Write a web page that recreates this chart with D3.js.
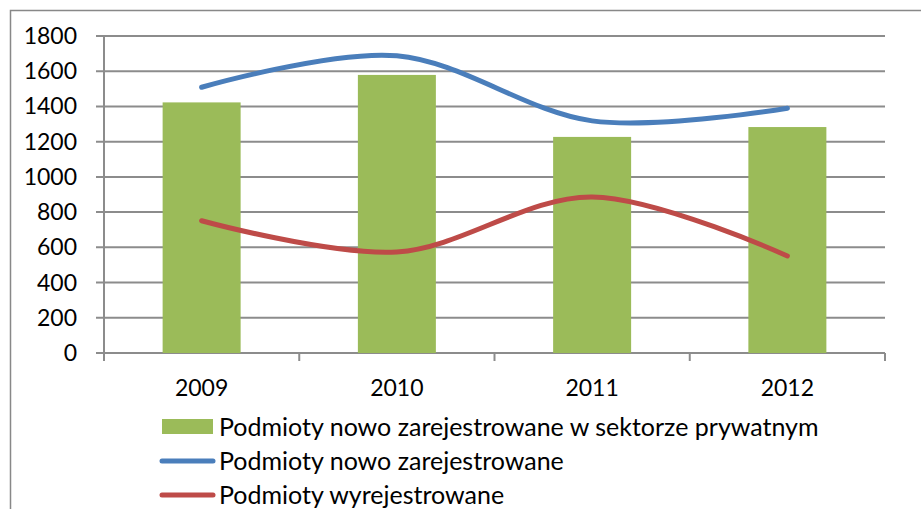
<!DOCTYPE html>
<html>
<head>
<meta charset="utf-8">
<script src="https://cdn.jsdelivr.net/npm/d3@7"></script>
<style>
  body { margin: 0; background: #fff; }
  text { font-family: Lato, "Open Sans", sans-serif; fill: #000; }
</style>
</head>
<body>
<div id="chart"></div>
<script>
var years = ["2009", "2010", "2011", "2012"];
var privNew = [1423, 1579, 1227, 1283];
var allNew = [1509, 1688, 1318, 1390];
var removed = [751, 574, 886, 551];
var yTicks = [0, 200, 400, 600, 800, 1000, 1200, 1400, 1600, 1800];
var legendLabels = [
  "Podmioty nowo zarejestrowane w sektorze prywatnym",
  "Podmioty nowo zarejestrowane",
  "Podmioty wyrejestrowane"
];

var width = 921, height = 509;
var plot = {left: 104, right: 885, top: 36, bottom: 353};

var svg = d3.select("#chart").append("svg")
    .attr("width", width)
    .attr("height", height);

// outer chart frame
svg.append("rect")
    .attr("x", 10.5).attr("y", 10.5)
    .attr("width", 930).attr("height", 520)
    .attr("fill", "none")
    .attr("stroke", "#888").attr("stroke-width", 1.5);

var x = d3.scaleBand()
    .domain(years)
    .range([plot.left, plot.right]);

var y = d3.scaleLinear()
    .domain([0, 1800])
    .range([plot.bottom, plot.top]);

// gridlines
svg.append("g")
  .selectAll("line")
    .data(yTicks)
  .enter().append("line")
    .attr("x1", plot.left - 8).attr("x2", plot.right)
    .attr("y1", function(d) { return y(d); })
    .attr("y2", function(d) { return y(d); })
    .attr("stroke", "#8c8c8c").attr("stroke-width", 2);

// y axis line
svg.append("line")
    .attr("x1", plot.left).attr("x2", plot.left)
    .attr("y1", plot.top).attr("y2", plot.bottom + 8)
    .attr("stroke", "#8c8c8c").attr("stroke-width", 2);

// category boundary ticks
var bounds = years.map(function(d) { return x(d); }).concat([plot.right]);
svg.append("g")
  .selectAll("line")
    .data(bounds)
  .enter().append("line")
    .attr("x1", function(d) { return d; }).attr("x2", function(d) { return d; })
    .attr("y1", plot.bottom).attr("y2", plot.bottom + 8)
    .attr("stroke", "#8c8c8c").attr("stroke-width", 2);

// y labels
svg.append("g")
  .selectAll("text")
    .data(yTicks)
  .enter().append("text")
    .attr("x", 77)
    .attr("y", function(d) { return y(d); })
    .attr("dy", "0.35em")
    .attr("text-anchor", "end")
    .style("font-size", "23px")
    .text(function(d) { return d; });

// x labels
svg.append("g")
  .selectAll("text")
    .data(years)
  .enter().append("text")
    .attr("x", function(d) { return x(d) + x.bandwidth() / 2; })
    .attr("y", 396)
    .attr("text-anchor", "middle")
    .style("font-size", "23px")
    .text(function(d) { return d; });

// bars
var barW = 78;
svg.append("g")
  .selectAll("rect")
    .data(privNew)
  .enter().append("rect")
    .attr("x", function(d, i) { return x(years[i]) + x.bandwidth() / 2 - barW / 2; })
    .attr("y", function(d) { return y(d); })
    .attr("width", barW)
    .attr("height", function(d) { return plot.bottom - y(d); })
    .attr("fill", "#9bbb59");

var line = d3.line()
    .x(function(d, i) { return x(years[i]) + x.bandwidth() / 2; })
    .y(function(d) { return y(d); })
    .curve(d3.curveCardinal.tension(0));

svg.append("path")
    .attr("d", line(allNew))
    .attr("fill", "none")
    .attr("stroke", "#4a7ebb").attr("stroke-width", 5)
    .attr("stroke-linecap", "round");

svg.append("path")
    .attr("d", line(removed))
    .attr("fill", "none")
    .attr("stroke", "#be4b48").attr("stroke-width", 5)
    .attr("stroke-linecap", "round");

// legend
var legend = svg.append("g");
var rowY = [427, 461, 495];
legend.append("rect")
    .attr("x", 162).attr("y", rowY[0] - 8)
    .attr("width", 51).attr("height", 15)
    .attr("fill", "#9bbb59");
[["#4a7ebb", 1], ["#be4b48", 2]].forEach(function(p) {
  legend.append("line")
      .attr("x1", 162).attr("x2", 213)
      .attr("y1", rowY[p[1]]).attr("y2", rowY[p[1]])
      .attr("stroke", p[0]).attr("stroke-width", 5)
      .attr("stroke-linecap", "round");
});
legend.selectAll("text")
    .data(legendLabels)
  .enter().append("text")
    .attr("x", 219)
    .attr("y", function(d, i) { return rowY[i]; })
    .attr("dy", "0.35em")
    .style("font-size", "25px")
    .text(function(d) { return d; });
</script>
</body>
</html>
